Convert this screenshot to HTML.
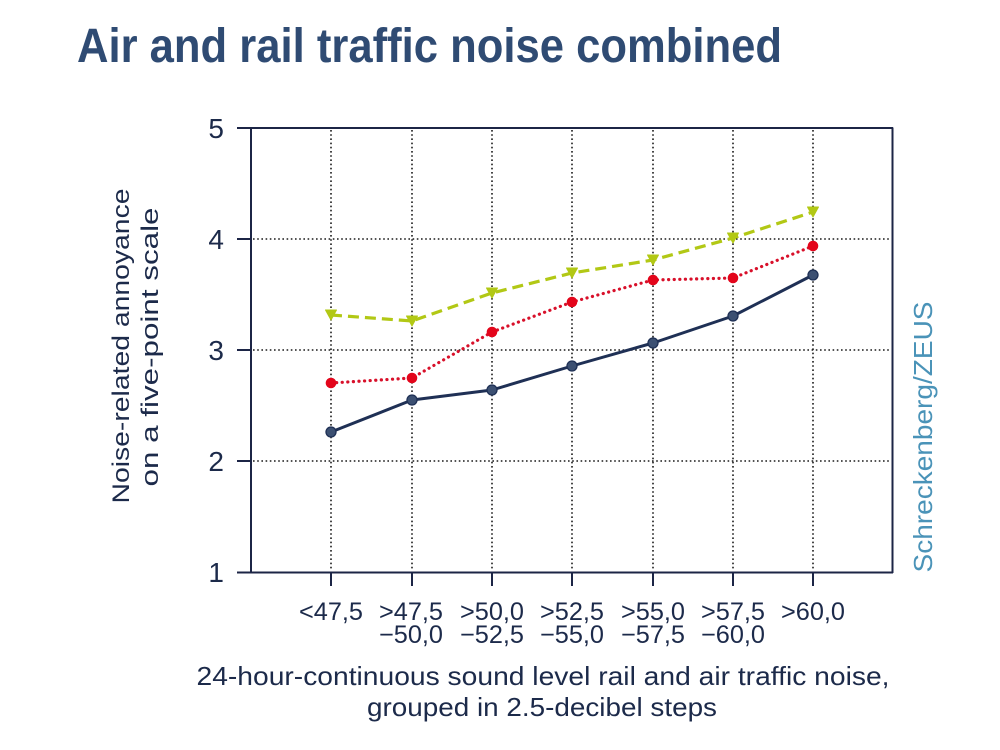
<!DOCTYPE html>
<html>
<head>
<meta charset="utf-8">
<style>
  html, body { margin: 0; padding: 0; background: #ffffff; }
  svg { display: block; }
  text { font-family: "Liberation Sans", "DejaVu Sans", sans-serif; }
</style>
</head>
<body>
<svg width="1000" height="750" viewBox="0 0 1000 750" xmlns="http://www.w3.org/2000/svg">
  <rect x="0" y="0" width="1000" height="750" fill="#ffffff"/>

  <!-- Title -->
  <text x="77" y="62" font-size="48" font-weight="bold" fill="#2f4b73" textLength="705" lengthAdjust="spacingAndGlyphs">Air and rail traffic noise combined</text>

  <!-- Grid: dotted -->
  <g stroke="#1a1a1a" stroke-width="1.6" stroke-dasharray="1.6 2.6" fill="none">
    <line x1="253" y1="239" x2="890" y2="239"/>
    <line x1="253" y1="350" x2="890" y2="350"/>
    <line x1="253" y1="461" x2="890" y2="461"/>
    <line x1="331" y1="130" x2="331" y2="571"/>
    <line x1="412" y1="130" x2="412" y2="571"/>
    <line x1="492" y1="130" x2="492" y2="571"/>
    <line x1="572" y1="130" x2="572" y2="571"/>
    <line x1="653" y1="130" x2="653" y2="571"/>
    <line x1="733" y1="130" x2="733" y2="571"/>
    <line x1="813" y1="130" x2="813" y2="571"/>
  </g>

  <!-- Axes box -->
  <g stroke="#1c2546" stroke-width="2" fill="none">
    <line x1="251" y1="127.5" x2="251" y2="573"/>
    <line x1="892.5" y1="127.5" x2="892.5" y2="573"/>
    <line x1="237" y1="128" x2="893" y2="128"/>
    <line x1="237" y1="572.5" x2="893" y2="572.5"/>
    <line x1="237" y1="239" x2="251" y2="239"/>
    <line x1="237" y1="350" x2="251" y2="350"/>
    <line x1="237" y1="461" x2="251" y2="461"/>
    <line x1="331" y1="573" x2="331" y2="586"/>
    <line x1="412" y1="573" x2="412" y2="586"/>
    <line x1="492" y1="573" x2="492" y2="586"/>
    <line x1="572" y1="573" x2="572" y2="586"/>
    <line x1="653" y1="573" x2="653" y2="586"/>
    <line x1="733" y1="573" x2="733" y2="586"/>
    <line x1="813" y1="573" x2="813" y2="586"/>
  </g>

  <!-- Y tick labels -->
  <g font-size="28" fill="#1c2a4a" text-anchor="end">
    <text x="224" y="138">5</text>
    <text x="224" y="249">4</text>
    <text x="224" y="360">3</text>
    <text x="224" y="471">2</text>
    <text x="224" y="582">1</text>
  </g>

  <!-- X tick labels -->
  <g font-size="25" fill="#1c2a4a" text-anchor="middle">
    <text x="331" y="620" textLength="64" lengthAdjust="spacingAndGlyphs">&lt;47,5</text>
    <text x="411" y="620" textLength="64" lengthAdjust="spacingAndGlyphs">&gt;47,5</text>
    <text x="492" y="620" textLength="64" lengthAdjust="spacingAndGlyphs">&gt;50,0</text>
    <text x="572" y="620" textLength="64" lengthAdjust="spacingAndGlyphs">&gt;52,5</text>
    <text x="653" y="620" textLength="64" lengthAdjust="spacingAndGlyphs">&gt;55,0</text>
    <text x="733" y="620" textLength="64" lengthAdjust="spacingAndGlyphs">&gt;57,5</text>
    <text x="813" y="620" textLength="64" lengthAdjust="spacingAndGlyphs">&gt;60,0</text>
    <text x="411" y="643" textLength="64" lengthAdjust="spacingAndGlyphs">−50,0</text>
    <text x="492" y="643" textLength="64" lengthAdjust="spacingAndGlyphs">−52,5</text>
    <text x="572" y="643" textLength="64" lengthAdjust="spacingAndGlyphs">−55,0</text>
    <text x="653" y="643" textLength="64" lengthAdjust="spacingAndGlyphs">−57,5</text>
    <text x="733" y="643" textLength="64" lengthAdjust="spacingAndGlyphs">−60,0</text>
  </g>

  <!-- X axis title -->
  <text x="543" y="685" font-size="26" fill="#1c2a4a" text-anchor="middle" textLength="693" lengthAdjust="spacingAndGlyphs">24-hour-continuous sound level rail and air traffic noise,</text>
  <text x="542" y="716" font-size="26" fill="#1c2a4a" text-anchor="middle" textLength="350" lengthAdjust="spacingAndGlyphs">grouped in 2.5-decibel steps</text>

  <!-- Y axis title -->
  <text transform="translate(129,346) rotate(-90)" font-size="24" fill="#1c2a4a" text-anchor="middle" textLength="315" lengthAdjust="spacingAndGlyphs">Noise-related annoyance</text>
  <text transform="translate(158,347) rotate(-90)" font-size="24" fill="#1c2a4a" text-anchor="middle" textLength="279" lengthAdjust="spacingAndGlyphs">on a five-point scale</text>

  <!-- Source -->
  <text transform="translate(932,437) rotate(-90)" font-size="26" fill="#4a93b8" text-anchor="middle" textLength="271" lengthAdjust="spacingAndGlyphs">Schreckenberg/ZEUS</text>

  <!-- Green dashed series -->
  <polyline points="331,315 412,321 492,293 572,273 653,260 733,238 813,212" fill="none" stroke="#b2c815" stroke-width="3.2" stroke-dasharray="11 6"/>
  <g fill="#b2c815" stroke="#b2c815" stroke-width="1" stroke-linejoin="round">
    <polygon points="325.5,310 336.5,310 331,320"/>
    <polygon points="406.5,316 417.5,316 412,326"/>
    <polygon points="486.5,288 497.5,288 492,298"/>
    <polygon points="566.5,268 577.5,268 572,278"/>
    <polygon points="647.5,255 658.5,255 653,265"/>
    <polygon points="727.5,233 738.5,233 733,243"/>
    <polygon points="807.5,207 818.5,207 813,217"/>
  </g>

  <!-- Red dotted series -->
  <polyline points="331,383 412,378 492,332 572,302 653,280 733,278 813,246" fill="none" stroke="#d8102a" stroke-width="3.2" stroke-linecap="round" stroke-dasharray="0.1 5.5"/>
  <g fill="#e3051b">
    <circle cx="331" cy="383" r="5.3"/>
    <circle cx="412" cy="378" r="5.3"/>
    <circle cx="492" cy="332" r="5.3"/>
    <circle cx="572" cy="302" r="5.3"/>
    <circle cx="653" cy="280" r="5.3"/>
    <circle cx="733" cy="278" r="5.3"/>
    <circle cx="813" cy="246" r="5.3"/>
  </g>

  <!-- Navy solid series -->
  <polyline points="331,432 412,400 492,390 572,366 653,343 733,316 813,275" fill="none" stroke="#1f3055" stroke-width="3" stroke-linejoin="round"/>
  <g fill="#3c5072" stroke="#1f3055" stroke-width="1.3">
    <circle cx="331" cy="432" r="5"/>
    <circle cx="412" cy="400" r="5"/>
    <circle cx="492" cy="390" r="5"/>
    <circle cx="572" cy="366" r="5"/>
    <circle cx="653" cy="343" r="5"/>
    <circle cx="733" cy="316" r="5"/>
    <circle cx="813" cy="275" r="5"/>
  </g>
</svg>
</body>
</html>
